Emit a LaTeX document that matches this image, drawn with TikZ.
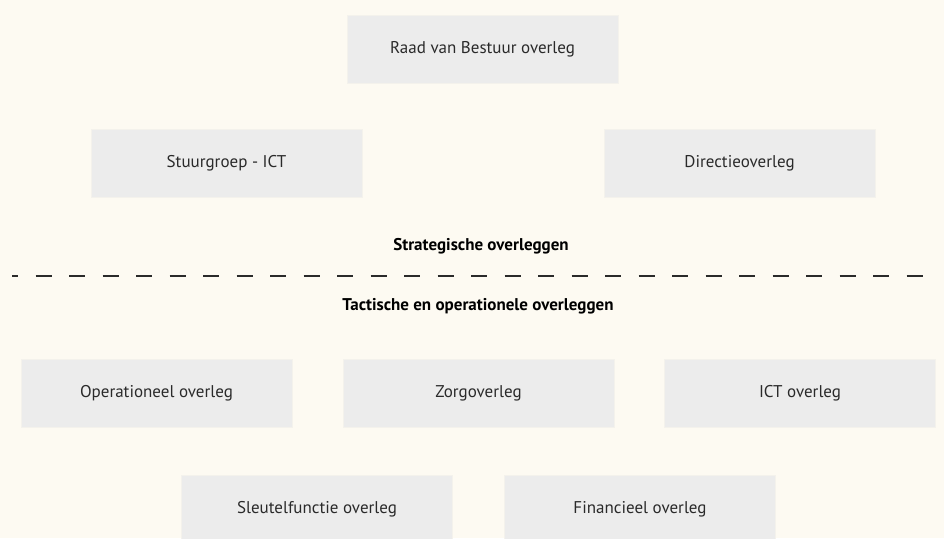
\documentclass[tikz,border=0pt]{standalone}
\usepackage{fontspec}
\setmainfont{PT Sans}
\definecolor{bg}{HTML}{FDFAF2}
\definecolor{boxfill}{HTML}{ECECEC}
\definecolor{boxedge}{HTML}{F4F2EC}
\definecolor{txt}{HTML}{2A2A2A}
\begin{document}
\begin{tikzpicture}[x=1pt,y=-1pt,
  ovbox/.style={fill=boxfill,draw=boxedge,line width=1pt,minimum width=271pt,minimum height=68pt,inner sep=0pt,text=txt,font=\fontsize{17}{19}\selectfont},
  heading/.style={text=black,font=\fontsize{17}{19}\selectfont\bfseries,inner sep=0pt}]
\fill[bg] (0,0) rectangle (944,538);
\useasboundingbox (0,0) rectangle (944,538);
\node[ovbox] (rvb) at (482.5,49) {Raad van Bestuur overleg};
\node[ovbox] (stg) at (226.5,163) {Stuurgroep - ICT};
\node[ovbox] (dir) at (739.5,163) {Directieoverleg};
\node[heading] (strat) at (481,246) {Strategische overleggen};
\coordinate (dl) at (12,276);
\coordinate (dr) at (930,276);
\draw[txt,line width=1.4pt,dash pattern=on 16pt off 17.5pt,dash phase=10pt] (dl) -- (dr);
\node[heading] (tact) at (478,306) {Tactische en operationele overleggen};
\node[ovbox] (ops) at (156.5,393) {Operationeel overleg};
\node[ovbox] (zorg) at (478.5,393) {\raisebox{2pt}{Zorgoverleg}};
\node[ovbox] (ict) at (800,393) {ICT overleg};
\node[ovbox] (sleu) at (317,509) {Sleutelfunctie overleg};
\node[ovbox] (fin) at (640,509) {Financieel overleg};
\end{tikzpicture}
\end{document}
